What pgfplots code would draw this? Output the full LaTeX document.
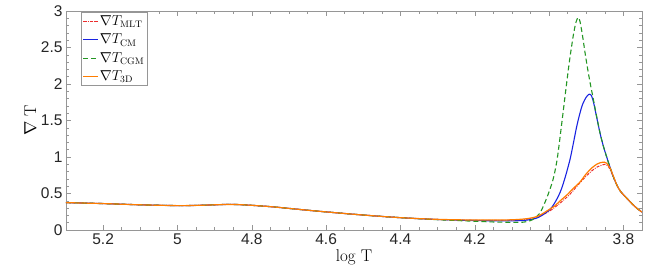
\documentclass[border=0pt]{standalone}
\usepackage{fontspec}
\usepackage{pgfplots}
\pgfplotsset{compat=1.18}
\newfontfamily\tickfont{Liberation Sans}
\definecolor{cmlt}{RGB}{235,45,45}
\definecolor{ccm}{RGB}{25,35,225}
\definecolor{ccgm}{RGB}{35,150,35}
\definecolor{cthd}{RGB}{255,125,0}
\definecolor{framec}{RGB}{150,150,150}
\begin{document}
\begin{tikzpicture}
\begin{axis}[
  scale only axis, width=576bp, height=219bp,
  x dir=reverse, xmin=3.75, xmax=5.3, ymin=0, ymax=3,
  xtick={3.8,4,4.2,4.4,4.6,4.8,5,5.2},
  ytick={0,0.5,1,1.5,2,2.5,3},
  minor x tick num=3, minor y tick num=4,
  tick align=inside,
  major tick length=5bp, minor tick length=3bp,
  every tick/.style={framec, line width=0.5bp},
  axis line style={framec, line width=0.7bp},
  /pgf/number format/assume math mode=true,
  tick label style={font=\tickfont\fontsize{15.5bp}{18bp}\selectfont, text=black!85},
  xlabel={log T}, ylabel={$\nabla$ T},
  label style={font=\fontsize{17bp}{20bp}\selectfont},
  xlabel style={yshift=2bp},
  ylabel style={yshift=-2bp},
  legend cell align=left,
  legend image code/.code={\draw[#1] plot coordinates {(0bp,0bp) (7bp,0bp) (14bp,0bp)};},
  legend style={at={(rel axis cs:0.026,0.995)}, anchor=north west, draw=framec, line width=0.6bp,
    font=\fontsize{13.5bp}{16bp}\selectfont, inner sep=1.5bp, row sep=3bp},
]
% red MLT
\addplot[cmlt, line width=1bp, dash pattern=on 3bp off 1.2bp on 1bp off 1.2bp, smooth] coordinates {
(5.30,0.375)(5.20,0.362)(5.10,0.345)(5.00,0.334)(4.95,0.337)(4.90,0.345)(4.87,0.350)(4.84,0.349)(4.80,0.338)(4.75,0.320)(4.70,0.296)(4.65,0.271)(4.60,0.248)(4.55,0.226)(4.50,0.205)(4.45,0.186)(4.40,0.169)(4.35,0.155)(4.30,0.144)(4.25,0.137)(4.20,0.133)(4.15,0.132)
(4.10,0.135)(4.06,0.148)(4.03,0.18)(4.00,0.255)(3.985,0.31)(3.97,0.37)(3.95,0.46)(3.935,0.54)(3.92,0.63)(3.90,0.74)(3.885,0.81)(3.872,0.86)(3.86,0.885)(3.85,0.90)(3.843,0.885)(3.836,0.83)(3.828,0.74)
(3.818,0.62)(3.808,0.53)(3.79,0.43)(3.775,0.35)(3.762,0.29)(3.75,0.245)};
\addlegendentry{$\nabla T_{\mathrm{MLT}}$}
% blue CM
\addplot[ccm, line width=1.1bp, smooth] coordinates {
(5.30,0.375)(5.20,0.362)(5.10,0.345)(5.00,0.334)(4.95,0.337)(4.90,0.345)(4.87,0.350)(4.84,0.349)(4.80,0.338)(4.75,0.320)(4.70,0.296)(4.65,0.271)(4.60,0.248)(4.55,0.226)(4.50,0.205)(4.45,0.186)(4.40,0.169)(4.35,0.155)(4.30,0.144)(4.25,0.135)(4.20,0.130)(4.15,0.126)
(4.10,0.125)(4.06,0.135)(4.03,0.17)(4.00,0.27)(3.985,0.37)(3.97,0.52)(3.958,0.70)(3.944,0.96)(3.935,1.18)(3.926,1.41)(3.918,1.58)(3.91,1.72)(3.90,1.82)(3.892,1.86)(3.886,1.84)(3.88,1.74)(3.873,1.57)(3.863,1.33)(3.854,1.15)(3.845,1.00)(3.836,0.86)(3.828,0.74)
(3.818,0.62)(3.808,0.53)(3.79,0.43)(3.775,0.35)(3.762,0.29)(3.75,0.245)};
\addlegendentry{$\nabla T_{\mathrm{CM}}$}
% green CGM
\addplot[ccgm, line width=1.1bp, dash pattern=on 5bp off 3bp, smooth] coordinates {
(5.30,0.375)(5.20,0.362)(5.10,0.345)(5.00,0.334)(4.95,0.337)(4.90,0.345)(4.87,0.350)(4.84,0.349)(4.80,0.338)(4.75,0.320)(4.70,0.296)(4.65,0.271)(4.60,0.248)(4.55,0.226)(4.50,0.205)(4.45,0.186)(4.40,0.169)(4.35,0.154)(4.30,0.141)(4.25,0.130)(4.20,0.120)(4.15,0.110)
(4.10,0.105)(4.07,0.107)(4.045,0.14)(4.025,0.23)(4.007,0.43)(3.99,0.68)(3.978,0.98)(3.965,1.50)(3.955,1.92)(3.945,2.32)(3.935,2.66)(3.928,2.84)(3.922,2.91)(3.917,2.86)(3.91,2.66)(3.903,2.42)(3.896,2.20)(3.889,2.00)(3.882,1.82)(3.873,1.58)(3.863,1.33)(3.854,1.15)(3.845,1.00)(3.836,0.86)(3.828,0.74)
(3.818,0.62)(3.808,0.53)(3.79,0.43)(3.775,0.35)(3.762,0.29)(3.75,0.245)};
\addlegendentry{$\nabla T_{\mathrm{CGM}}$}
% orange 3D
\addplot[cthd, line width=1.2bp, smooth] coordinates {
(5.30,0.375)(5.20,0.362)(5.10,0.345)(5.00,0.334)(4.95,0.337)(4.90,0.345)(4.87,0.350)(4.84,0.349)(4.80,0.338)(4.75,0.320)(4.70,0.296)(4.65,0.271)(4.60,0.248)(4.55,0.226)(4.50,0.205)(4.45,0.186)(4.40,0.169)(4.35,0.156)(4.30,0.146)(4.25,0.140)(4.20,0.137)(4.15,0.136)
(4.10,0.140)(4.06,0.155)(4.03,0.19)(4.00,0.28)(3.985,0.33)(3.97,0.40)(3.95,0.49)(3.935,0.57)(3.918,0.65)(3.90,0.77)(3.885,0.85)(3.872,0.90)(3.86,0.925)(3.852,0.93)(3.845,0.915)(3.836,0.85)(3.828,0.75)
(3.818,0.62)(3.808,0.53)(3.79,0.43)(3.775,0.35)(3.762,0.29)(3.75,0.245)};
\addlegendentry{$\nabla T_{\mathrm{3D}}$}
\end{axis}
\path (-66bp,-50bp) rectangle (588bp,230bp);
\end{tikzpicture}
\end{document}
